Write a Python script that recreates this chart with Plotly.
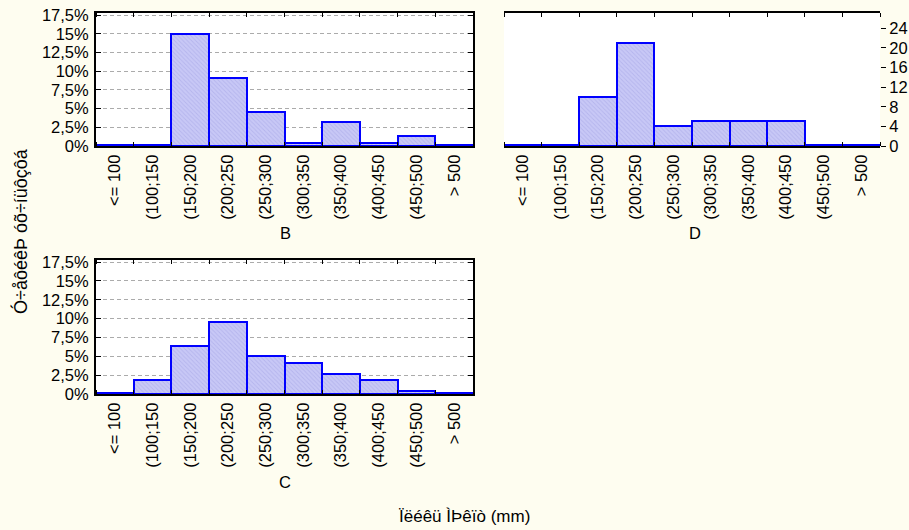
import plotly.graph_objects as go

# Length classes (mm)
categories = ["<= 100", "(100;150", "(150;200", "(200;250", "(250;300",
              "(300;350", "(350;400", "(400;450", "(450;500", "> 500"]

# Relative frequency (%) for groups B and C, counts for group D
b_pct = [0, 0, 15.0, 9.1, 4.5, 0.45, 3.15, 0.45, 1.35, 0]
d_count = [0, 0, 10, 21, 4, 5, 5, 5, 0, 0]
c_pct = [0, 1.8, 6.4, 9.6, 5.0, 4.05, 2.7, 1.8, 0.45, 0]

pct_ticks = [0, 2.5, 5, 7.5, 10, 12.5, 15, 17.5]
pct_labels = ["0%", "2,5%", "5%", "7,5%", "10%", "12,5%", "15%", "17,5%"]
count_ticks = [0, 4, 8, 12, 16, 20, 24]
count_labels = ["0", "4", "8", "12", "16", "20", "24"]

panel_titles = ["B", "D", "C"]
y_title = "Ó÷åôéêÞ óõ÷íüôçôá"
x_title = "Ïëéêü ÌÞêïò (mm)"

W, H = 909, 530
BG = "#FEFDF0"
FONT = "Arial, Liberation Sans, sans-serif"
BAR_FILL = "#C8C8F6"
BAR_LINE = "#0000FF"
GRID = "#ABABAB"

idx = list(range(len(categories)))
edges = [i - 0.5 for i in range(len(categories) + 1)]


def px_x(a, b):
    return [a / W, b / W]


def px_y(top, bottom):
    return [1 - bottom / H, 1 - top / H]


def add_hist(fig, values, xa, ya):
    fig.add_trace(go.Bar(
        x=idx, y=values, width=1, xaxis=xa, yaxis=ya, showlegend=False,
        marker=dict(color=BAR_FILL,
                    line=dict(color=BAR_LINE, width=2),
                    pattern=dict(shape="\\", bgcolor=BAR_FILL, fgcolor="#A2A2E4",
                                 size=3, solidity=0.3)),
        customdata=categories, hovertemplate="%{customdata}: %{y}<extra></extra>",
    ))
    # empty classes are drawn as a flat outline along the baseline
    zx, zy = [], []
    for i, v in zip(idx, values):
        if v == 0:
            zx += [i - 0.5, i + 0.5, None]
            zy += [0, 0, None]
    fig.add_trace(go.Scatter(x=zx, y=zy, mode="lines", xaxis=xa, yaxis=ya,
                             line=dict(color=BAR_LINE, width=4), cliponaxis=False,
                             showlegend=False, hoverinfo="skip"))


fig = go.Figure()
add_hist(fig, b_pct, "x", "y")
add_hist(fig, d_count, "x2", "y4")
add_hist(fig, c_pct, "x3", "y3")

tickfont = dict(family=FONT, size=16.5, color="black")

xcommon = dict(range=[-0.5, len(categories) - 0.5], tickvals=idx, ticktext=categories,
               ticks="", automargin=False,
               minor=dict(tickvals=edges, ticks="inside", ticklen=4,
                          tickcolor="black", tickwidth=1, showgrid=False),
               mirror="ticks", showline=True,
               linecolor="black", linewidth=2, tickangle=-90, tickfont=tickfont,
               showgrid=False, zeroline=False, fixedrange=True)
pct_axis = dict(range=[0, 17.77], tickvals=pct_ticks, ticktext=pct_labels,
                ticks="inside", ticklen=5, tickcolor="black", mirror="ticks",
                showline=True, linecolor="black", linewidth=2, tickfont=tickfont,
                ticklabelstandoff=2, automargin=False,
                showgrid=True, gridcolor=GRID, gridwidth=1, griddash="4px,3px",
                zeroline=False, fixedrange=True)

d_left, d_right = 504, 880
top_dom = px_y(13, 146)
fig.update_layout(
    width=W, height=H,
    margin=dict(l=0, r=0, t=0, b=0, autoexpand=False),
    paper_bgcolor=BG, plot_bgcolor="white",
    bargap=0, showlegend=False,
    font=dict(family=FONT, color="black"),
    xaxis=dict(domain=px_x(96, 473), anchor="y", **xcommon),
    yaxis=dict(domain=top_dom, anchor="x", **pct_axis),
    xaxis2=dict(domain=px_x(d_left, d_right), anchor="y2", **xcommon),
    yaxis2=dict(domain=top_dom, anchor="x2",
                **{**pct_axis, "showticklabels": False}),
    yaxis4=dict(domain=top_dom, overlaying="y2", anchor="x2", side="right",
                range=[0, 27.1], tickvals=count_ticks, ticktext=count_labels,
                ticks="outside", ticklen=5, tickcolor="black", tickfont=tickfont,
                automargin=False,
                showgrid=False, zeroline=False, showline=False, fixedrange=True),
    xaxis3=dict(domain=px_x(96, 473), anchor="y3", **xcommon),
    yaxis3=dict(domain=px_y(260, 394), anchor="x3", **pct_axis),
)

annots = [
    (panel_titles[0], 285, 233, 0, 16.5),
    (panel_titles[1], 695, 233, 0, 16.5),
    (panel_titles[2], 285, 482, 0, 16.5),
    (y_title, 20, 231, -90, 18),
    (x_title, 464, 516, 0, 17),
]
for text, ax, ay, ang, size in annots:
    fig.add_annotation(text=text, x=ax / W, y=1 - ay / H, xref="paper", yref="paper",
                       showarrow=False, textangle=ang, xanchor="center", yanchor="middle",
                       font=dict(family=FONT, size=size, color="black"))

fig.write_html("out.html")
